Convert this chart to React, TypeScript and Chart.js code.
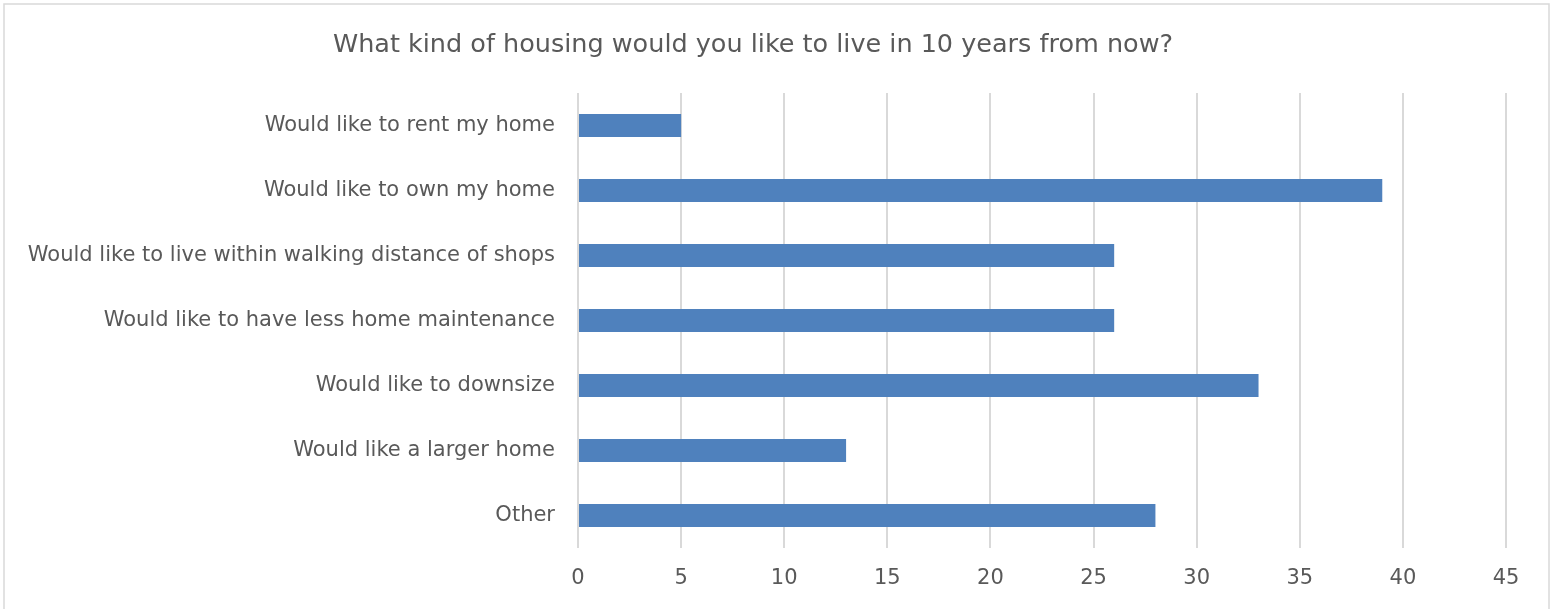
import React, { useEffect, useRef } from "react";
import { Chart, registerables } from "chart.js";

Chart.register(...registerables);

const titleText = "What kind of housing would you like to live in 10 years from now?";
const categories = [
  "Would like to rent my home",
  "Would like to own my home",
  "Would like to live within walking distance of shops",
  "Would like to have less home maintenance",
  "Would like to downsize",
  "Would like a larger home",
  "Other",
];
const values = [5, 39, 26, 26, 33, 13, 28];
const xMin = 0;
const xMax = 45;
const xStep = 5;

const FONT = "'DejaVu Sans', sans-serif";
const TEXT = "#595959";

const borderPlugin = {
  id: "outerBorder",
  beforeDraw(chart: any) {
    const ctx = chart.ctx;
    ctx.save();
    ctx.fillStyle = "#ffffff";
    ctx.fillRect(0, 0, chart.width, chart.height);
    ctx.strokeStyle = "#d9d9d9";
    ctx.lineWidth = 1.5;
    ctx.strokeRect(4, 4, chart.width - 8, chart.height + 10);
    ctx.restore();
  },
};

export default function App() {
  const ref = useRef<HTMLCanvasElement | null>(null);
  useEffect(() => {
    if (!ref.current) return;
    const chart = new Chart(ref.current, {
      type: "bar",
      data: {
        labels: categories,
        datasets: [
          {
            data: values,
            backgroundColor: "#4f81bd",
            borderWidth: 0,
            categoryPercentage: 1,
            barPercentage: 0.355,
          },
        ],
      },
      options: {
        indexAxis: "y",
        animation: false,
        responsive: false,
        maintainAspectRatio: false,
        layout: { padding: { left: 0, right: 47, top: 0, bottom: 0 } },
        plugins: {
          legend: { display: false },
          tooltip: { enabled: false },
          title: {
            display: true,
            text: titleText,
            color: TEXT,
            font: { family: FONT, size: 25.5, weight: "normal" },
            padding: { top: 29.7, bottom: 32.7 },
          },
        },
        scales: {
          x: {
            min: xMin,
            max: xMax,
            ticks: {
              stepSize: xStep,
              color: TEXT,
              font: { family: FONT, size: 21 },
              padding: 18,
            },
            grid: { color: "#d9d9d9", lineWidth: 2, drawTicks: false },
            border: { display: false },
            afterFit: (s: any) => {
              s.height = 61;
            },
          },
          y: {
            ticks: {
              color: TEXT,
              font: { family: FONT, size: 21 },
              padding: 23,
            },
            grid: { display: false, drawTicks: false },
            border: { display: false },
            afterFit: (s: any) => {
              s.width = 578;
            },
          },
        },
      },
      plugins: [borderPlugin],
    });
    return () => chart.destroy();
  }, []);
  return (
    <div style={{ position: "fixed", left: 0, top: 0, width: 1553, height: 609, background: "#fff" }}>
      <canvas ref={ref} width={1553} height={609} style={{ display: "block" }} />
    </div>
  );
}
